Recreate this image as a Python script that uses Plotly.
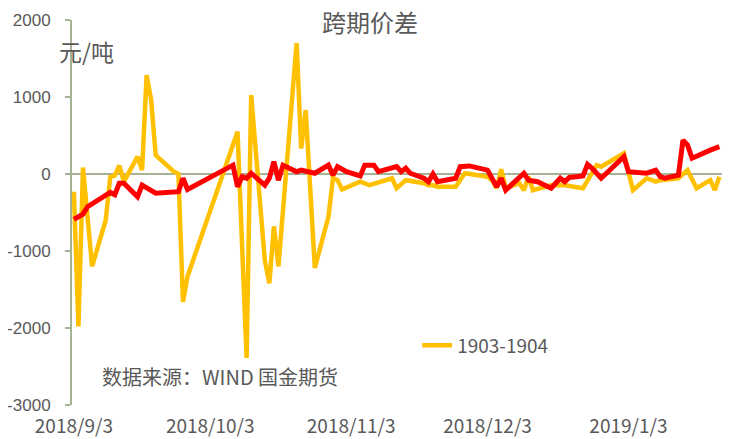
import plotly.graph_objects as go

# ---- data ----
spread_1903_1904_dates = [
    "2018-09-03", "2018-09-04", "2018-09-05", "2018-09-07", "2018-09-10", "2018-09-11",
    "2018-09-12", "2018-09-13", "2018-09-14", "2018-09-17", "2018-09-18", "2018-09-19",
    "2018-09-20", "2018-09-21", "2018-09-25", "2018-09-26", "2018-09-27", "2018-09-28",
    "2018-10-09", "2018-10-11", "2018-10-12", "2018-10-15", "2018-10-16", "2018-10-17",
    "2018-10-18", "2018-10-22", "2018-10-23", "2018-10-24", "2018-10-26", "2018-10-29",
    "2018-10-30", "2018-10-31", "2018-11-01", "2018-11-05", "2018-11-07", "2018-11-12",
    "2018-11-13", "2018-11-15", "2018-11-19", "2018-11-20", "2018-11-21", "2018-11-22",
    "2018-11-26", "2018-11-28", "2018-12-03", "2018-12-04", "2018-12-05", "2018-12-06",
    "2018-12-07", "2018-12-10", "2018-12-11", "2018-12-12", "2018-12-13", "2018-12-17",
    "2018-12-18", "2018-12-20", "2018-12-24", "2018-12-27", "2018-12-28", "2019-01-02",
    "2019-01-04", "2019-01-07", "2019-01-09", "2019-01-10", "2019-01-14", "2019-01-16",
    "2019-01-18", "2019-01-21", "2019-01-22", "2019-01-23",
]
spread_1903_1904 = [
    -230, -1980, 85, -1200, -600, -40,
    -20, 110, -100, 225, 50, 1285,
    960, 245, 30, 0, -1660, -1330,
    550, -2390, 1025, -1120, -1420, -680,
    -1200, 1700, 330, 830, -1220, -555,
    -50, -80, -200, -100, -145, -55,
    -185, -80, -120, -145, -145, -165,
    -165, 10, -35, -80, -185, 60,
    -185, -120, -210, -35, -210, -145,
    -145, -145, -185, 115, 95, 270,
    -210, -55, -100, -80, -55, 50,
    -185, -80, -210, -35,
]

spread_red_dates = [
    "2018-09-03", "2018-09-05", "2018-09-06", "2018-09-10", "2018-09-11", "2018-09-12",
    "2018-09-13", "2018-09-14", "2018-09-17", "2018-09-18", "2018-09-21", "2018-09-26",
    "2018-09-27", "2018-09-28", "2018-10-08", "2018-10-09", "2018-10-10", "2018-10-11",
    "2018-10-12", "2018-10-15", "2018-10-16", "2018-10-17", "2018-10-18", "2018-10-19",
    "2018-10-22", "2018-10-23", "2018-10-26", "2018-10-29", "2018-10-30", "2018-10-31",
    "2018-11-02", "2018-11-05", "2018-11-06", "2018-11-08", "2018-11-09", "2018-11-13",
    "2018-11-14", "2018-11-15", "2018-11-16", "2018-11-19", "2018-11-20", "2018-11-21",
    "2018-11-22", "2018-11-26", "2018-11-27", "2018-11-29", "2018-12-03", "2018-12-05",
    "2018-12-06", "2018-12-07", "2018-12-11", "2018-12-12", "2018-12-14", "2018-12-17",
    "2018-12-19", "2018-12-20", "2018-12-21", "2018-12-24", "2018-12-25", "2018-12-26",
    "2018-12-28", "2019-01-02", "2019-01-03", "2019-01-07", "2019-01-09", "2019-01-10",
    "2019-01-11", "2019-01-14", "2019-01-15", "2019-01-16", "2019-01-17", "2019-01-21",
    "2019-01-23",
]
spread_red = [
    -590, -520, -425, -270, -240, -270,
    -120, -120, -295, -145, -250, -230,
    -55, -200, 115, -165, -35, -55,
    10, -145, -55, 160, -80, 115,
    30, 50, 10, 115, -15, 95,
    30, -25, 115, 115, 30, 95,
    30, 75, 10, -55, -100, 0,
    -100, -55, 95, 105, 50, -165,
    -55, -210, 10, -80, -100, -185,
    -55, -100, -45, -25, 125, 75,
    -55, 225, 30, 10, 50, -35,
    -55, -15, 440, 375, 205, 310,
    355,
]

y_ticks = [2000, 1000, 0, -1000, -2000, -3000]
y_tick_labels = ["2000", "1000", "0", "-1000", "-2000", "-3000"]
x_ticks = ["2018-09-03", "2018-10-03", "2018-11-03", "2018-12-03", "2019-01-03"]
x_tick_labels = ["2018/9/3", "2018/10/3", "2018/11/3", "2018/12/3", "2019/1/3"]

AXIS = "#A5B394"
TXT = "#595959"

fig = go.Figure()
fig.add_trace(go.Scatter(
    x=spread_1903_1904_dates, y=spread_1903_1904, mode="lines", name="1903-1904",
    line=dict(color="#FFC000", width=4.5), showlegend=True,
))
fig.add_trace(go.Scatter(
    x=spread_red_dates, y=spread_red, mode="lines", name="",
    line=dict(color="#FF0000", width=5), showlegend=False,
))

fig.update_layout(
    width=740, height=431,
    margin=dict(l=64, r=26, t=12, b=34, autoexpand=False),
    paper_bgcolor="white", plot_bgcolor="white",
    xaxis=dict(
        type="date", range=["2018-09-02 14:00", "2019-01-23 14:00"],
        tickvals=x_ticks, ticktext=x_tick_labels, showgrid=False, zeroline=False,
        showline=False, ticks="", automargin=False, ticklabelstandoff=8,
        tickfont=dict(family="Noto Sans CJK SC", size=19, color=TXT),
    ),
    yaxis=dict(
        range=[-3000, 2000], tickvals=y_ticks, ticktext=y_tick_labels, showgrid=False,
        zeroline=True, zerolinecolor=AXIS, zerolinewidth=2,
        showline=True, linecolor=AXIS, linewidth=2, automargin=False,
        ticks="outside", ticklen=5, tickcolor=AXIS, tickwidth=2, ticklabelstandoff=11,
        tickfont=dict(family="Liberation Sans", size=17, color=TXT),
    ),
    legend=dict(x=0.531, y=0.155, xanchor="left", yanchor="middle",
                bgcolor="rgba(0,0,0,0)", font=dict(family="Noto Sans CJK SC", size=19, color=TXT)),
    annotations=[
        dict(text="跨期价差", xref="paper", yref="paper", x=0.459, y=0.997, xanchor="center",
             yanchor="middle", showarrow=False, borderpad=0,
             font=dict(family="Noto Sans CJK SC", size=24, color=TXT)),
        dict(text="元/吨", xref="paper", yref="paper", x=-0.023, y=0.919, xanchor="left",
             yanchor="middle", showarrow=False,
             font=dict(family="Noto Sans CJK SC", size=23, color=TXT)),
        dict(text="数据来源：WIND 国金期货", xref="paper", yref="paper", x=0.043, y=0.075,
             xanchor="left", yanchor="middle", showarrow=False,
             font=dict(family="Noto Sans CJK SC", size=20, color=TXT)),
    ],
)

fig.write_html("out.html")
